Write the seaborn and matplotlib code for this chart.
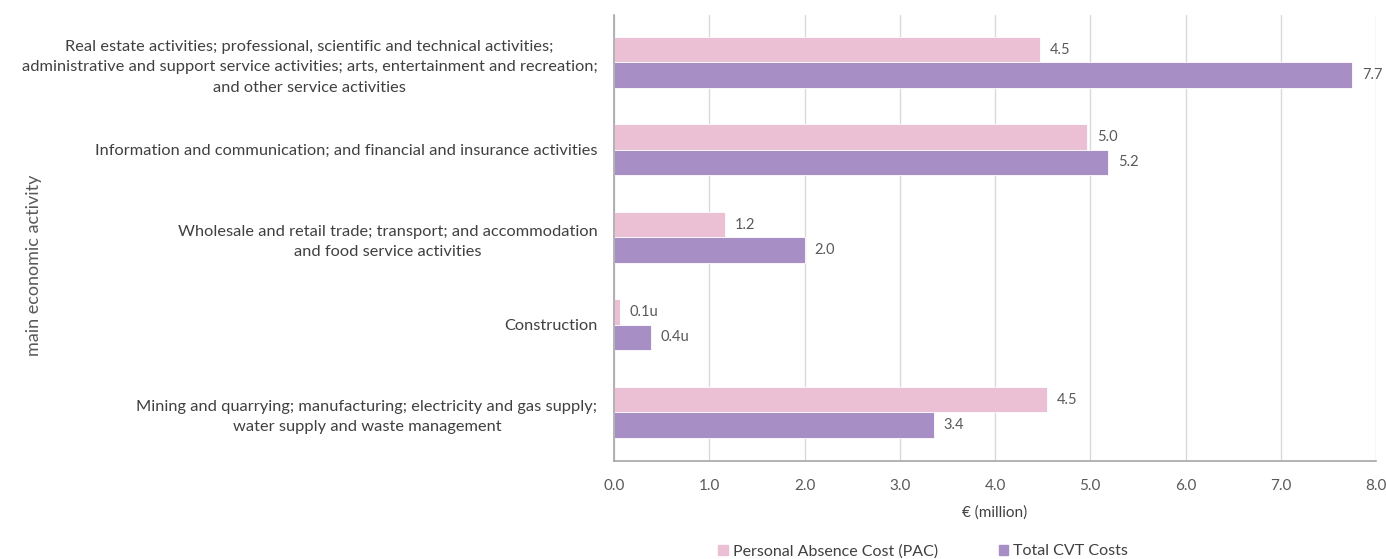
import pandas as pd
import seaborn as sns
import matplotlib.pyplot as plt

# Values (€ million)
activities = [
    "Real estate activities; professional, scientific and technical activities;\n"
    "administrative and support service activities; arts, entertainment and recreation;\n"
    "and other service activities",
    "Information and communication; and financial and insurance activities",
    "Wholesale and retail trade; transport; and accommodation\nand food service activities",
    "Construction",
    "Mining and quarrying; manufacturing; electricity and gas supply;\nwater supply and waste management",
]
pac = [4.47, 4.97, 1.17, 0.06, 4.55]
cvt = [7.75, 5.19, 2.0, 0.39, 3.36]
pac_labels = ["4.5", "5.0", "1.2", "0.1u", "4.5"]
cvt_labels = ["7.7", "5.2", "2.0", "0.4u", "3.4"]
series = ["Personal Absence Cost (PAC)", "Total CVT Costs"]
colors = ["#EBBFD4", "#A78FC5"]

df = pd.DataFrame({
    "activity": activities * 2,
    "cost": pac + cvt,
    "series": [series[0]] * len(pac) + [series[1]] * len(cvt),
})

sns.set_style("white")
plt.rcParams["font.family"] = ["Lato", "DejaVu Sans"]

fig, ax = plt.subplots(figsize=(13.86, 5.59), dpi=100)
fig.subplots_adjust(left=0.443, right=0.9928, top=0.973, bottom=0.175)

sns.barplot(data=df, y="activity", x="cost", hue="series", order=activities,
            hue_order=series, palette=colors, width=0.58, orient="h",
            edgecolor="white", linewidth=0.6, saturation=1, ax=ax)

for cont, labs in zip(ax.containers, [pac_labels, cvt_labels]):
    ax.bar_label(cont, labels=labs, padding=7, fontsize=10.5, color="#595959")

ax.set_xlim(0, 8)
ax.set_ylim(4.56, -0.54)
ax.set_xticks([0, 1, 2, 3, 4, 5, 6, 7, 8])
ax.set_xticklabels([f"{v:.1f}" for v in range(9)], fontsize=11, color="#595959")
ax.xaxis.grid(True, color="#D9D9D9", linewidth=1)
ax.set_axisbelow(True)

for lab in ax.get_yticklabels():
    lab.set_fontsize(11.8)
    lab.set_color("#404040")
    lab.set_linespacing(1.6)
    lab.set_horizontalalignment("right")
    lab.set_multialignment("center")
ax.tick_params(axis="y", length=0, pad=12)
ax.tick_params(axis="x", length=5, color="#A6A6A6", width=1, pad=8)

for side in ["top", "right"]:
    ax.spines[side].set_visible(False)
for side in ["left", "bottom"]:
    ax.spines[side].set_color("#A6A6A6")
    ax.spines[side].set_linewidth(1.2)

ax.set_xlabel("€ (million)", fontsize=11, color="#404040", labelpad=9)
ax.set_ylabel("main economic activity", fontsize=13, color="#595959")
ax.yaxis.set_label_coords(-0.75, 0.44)

ax.get_legend().remove()
handles = [plt.Rectangle((0, 0), 1, 1, color=c) for c in colors]
fig.legend(handles, series, loc="center", bbox_to_anchor=(0.666, 0.014), ncol=2,
           frameon=False, fontsize=11.5, handlelength=0.6, handleheight=0.6,
           handletextpad=0.3, columnspacing=3.8, labelcolor="#404040")

plt.savefig("out.png", dpi=100)
